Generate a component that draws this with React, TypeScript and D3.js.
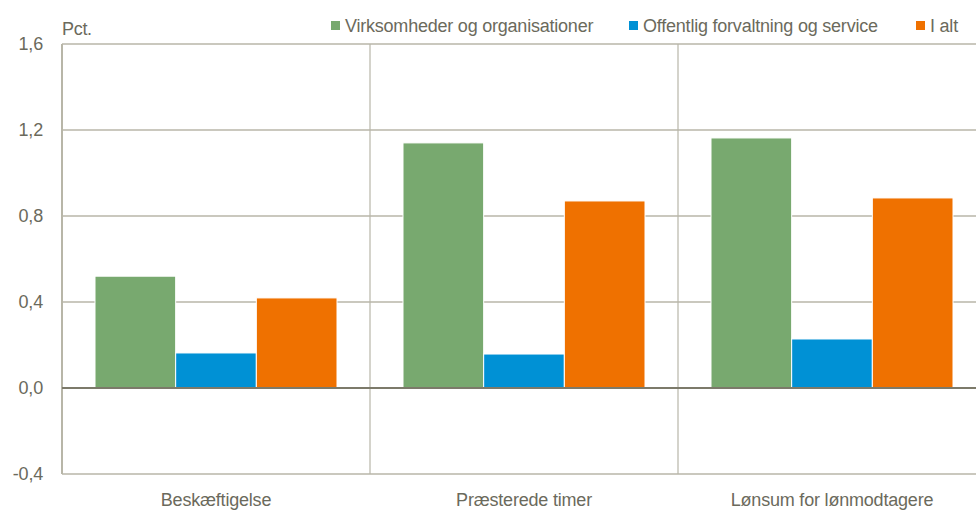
import React, { useEffect, useRef } from 'react'
import * as d3 from 'd3'

const categories = ['Beskæftigelse', 'Præsterede timer', 'Lønsum for lønmodtagere']
const seriesNames = ['Virksomheder og organisationer', 'Offentlig forvaltning og service', 'I alt']
const seriesColors = ['#78a96f', '#0091d5', '#ef7100']
const virksomheder = [0.52, 1.14, 1.163]
const offentlig = [0.163, 0.158, 0.228]
const iAlt = [0.419, 0.87, 0.884]
const yTicks = [-0.4, 0, 0.4, 0.8, 1.2, 1.6]

const App = () => {
  const ref = useRef<SVGSVGElement>(null)

  useEffect(() => {
    const svg = d3.select(ref.current)
    svg.selectAll('*').remove()

    const margin = { top: 44, left: 62 }
    const plotRight = 986
    const plotBottom = 474
    const textColor = '#6b6a5c'
    const gridColor = '#b8b6a8'
    const font = 'Liberation Sans, Arial, sans-serif'

    const x0 = d3.scaleBand().domain(categories).range([margin.left, plotRight])
    const x1 = d3.scaleBand().domain(seriesNames).range([33, x0.bandwidth() - 33])
    const y = d3.scaleLinear().domain([-0.4, 1.6]).range([plotBottom, margin.top])

    const values = [virksomheder, offentlig, iAlt]

    // grid
    svg.append('g')
      .selectAll('line')
      .data(yTicks.filter(d => d !== 0))
      .enter().append('line')
      .attr('x1', margin.left).attr('x2', plotRight)
      .attr('y1', d => y(d)).attr('y2', d => y(d))
      .attr('stroke', gridColor).attr('stroke-width', 1.5)

    // category separators
    svg.append('g')
      .selectAll('line')
      .data(categories)
      .enter().append('line')
      .attr('x1', d => x0(d)!).attr('x2', d => x0(d)!)
      .attr('y1', margin.top).attr('y2', plotBottom)
      .attr('stroke', gridColor).attr('stroke-width', d => (d === categories[0] ? 2 : 1.2))

    // bars
    svg.append('g')
      .selectAll('g')
      .data(categories)
      .enter().append('g')
      .attr('transform', d => `translate(${x0(d)},0)`)
      .selectAll('rect')
      .data((d, i) => seriesNames.map((s, j) => ({ key: s, value: values[j][i], color: seriesColors[j] })))
      .enter().append('rect')
      .attr('x', d => x1(d.key)!)
      .attr('y', d => y(Math.max(0, d.value)))
      .attr('width', x1.bandwidth())
      .attr('height', d => Math.abs(y(d.value) - y(0)))
      .attr('fill', d => d.color)
      .attr('stroke', '#ffffff').attr('stroke-width', 1)

    // zero line
    svg.append('line')
      .attr('x1', margin.left).attr('x2', plotRight)
      .attr('y1', y(0)).attr('y2', y(0))
      .attr('stroke', '#7c7a6a').attr('stroke-width', 2)

    // y labels
    svg.append('g')
      .selectAll('text')
      .data(yTicks)
      .enter().append('text')
      .attr('x', 43)
      .attr('y', d => y(d))
      .attr('dy', '0.35em')
      .attr('text-anchor', 'end')
      .attr('font-family', font).attr('font-size', 18)
      .attr('letter-spacing', -0.2)
      .attr('fill', textColor)
      .text(d => d3.format('.1f')(d).replace('.', ',').replace('−', '-'))

    svg.append('text')
      .attr('x', 62).attr('y', 35)
      .attr('font-family', font).attr('font-size', 18)
      .attr('letter-spacing', -0.3)
      .attr('fill', textColor)
      .text('Pct.')

    // category labels
    svg.append('g')
      .selectAll('text')
      .data(categories)
      .enter().append('text')
      .attr('x', d => x0(d)! + x0.bandwidth() / 2)
      .attr('y', 506)
      .attr('text-anchor', 'middle')
      .attr('font-family', font).attr('font-size', 18)
      .attr('letter-spacing', -0.2)
      .attr('fill', textColor)
      .text(d => d)

    // legend
    const legendX = [331, 629, 916]
    const legend = svg.append('g')
      .selectAll('g')
      .data(seriesNames)
      .enter().append('g')
      .attr('transform', (d, i) => `translate(${legendX[i]},0)`)
    legend.append('rect')
      .attr('x', 0).attr('y', 21)
      .attr('width', 9).attr('height', 9)
      .attr('fill', (d, i) => seriesColors[i])
    legend.append('text')
      .attr('x', 14).attr('y', 32)
      .attr('font-family', font).attr('font-size', 18)
      .attr('letter-spacing', -0.22)
      .attr('fill', textColor)
      .text(d => d)
  }, [])

  return <svg ref={ref} width={976} height={510} style={{ position: 'absolute', left: 0, top: 0 }} />
}

export default App
